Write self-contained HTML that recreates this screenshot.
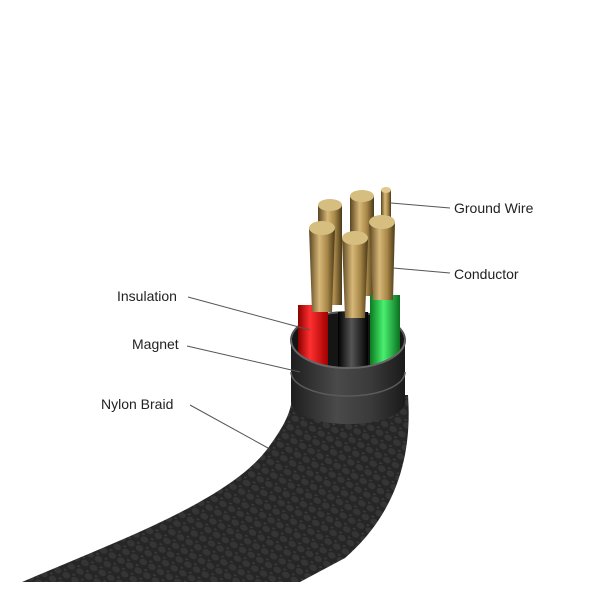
<!DOCTYPE html>
<html><head><style>
html,body{margin:0;padding:0;background:#fff;}
svg{display:block}
text{font-family:"Liberation Sans",sans-serif;font-size:14px;fill:#222}
</style></head><body>
<svg width="600" height="600" viewBox="0 0 600 600">
<defs>
<pattern id="braid" width="10" height="10" patternUnits="userSpaceOnUse" patternTransform="rotate(30)">
<rect width="10" height="10" fill="#262626"/>
<ellipse cx="5" cy="5" rx="4" ry="3" fill="#353535"/>
<ellipse cx="0" cy="0" rx="3" ry="2" fill="#3a3a3a"/>
</pattern>
<linearGradient id="sleeve" x1="0" x2="1">
<stop offset="0" stop-color="#1e1e1e"/><stop offset="0.4" stop-color="#4a4a4a"/><stop offset="0.7" stop-color="#3a3a3a"/><stop offset="1" stop-color="#1a1a1a"/>
</linearGradient>
<linearGradient id="gold" x1="0" x2="1">
<stop offset="0" stop-color="#5a4520"/><stop offset="0.4" stop-color="#d8b878"/><stop offset="0.7" stop-color="#a88848"/><stop offset="1" stop-color="#4a3818"/>
</linearGradient>
<linearGradient id="red" x1="0" x2="1"><stop offset="0" stop-color="#8a0000"/><stop offset="0.4" stop-color="#ff3030"/><stop offset="1" stop-color="#a00000"/></linearGradient>
<linearGradient id="blk" x1="0" x2="1"><stop offset="0" stop-color="#000"/><stop offset="0.45" stop-color="#555"/><stop offset="1" stop-color="#000"/></linearGradient>
<linearGradient id="grn" x1="0" x2="1"><stop offset="0" stop-color="#0a7a20"/><stop offset="0.45" stop-color="#4af070"/><stop offset="1" stop-color="#0a7020"/></linearGradient>
</defs>
<!-- braid -->
<path d="M22,582 C120,540 230,500 268,448 C285,425 292,410 292,395 L408,395 C412,450 400,510 345,558 L300,582 Z" fill="url(#braid)"/>
<!-- sleeve back / inside -->
<ellipse cx="348" cy="340" rx="57" ry="28" fill="#151515" stroke="#555" stroke-width="2"/>
<!-- back conductors -->
<rect x="318" y="205" width="24" height="100" fill="url(#gold)"/>
<ellipse cx="330" cy="205" rx="12" ry="6" fill="#d6bd80"/>
<rect x="350" y="196" width="24" height="100" fill="url(#gold)"/>
<ellipse cx="362" cy="196" rx="12" ry="6" fill="#d6bd80"/>
<rect x="381" y="190" width="10" height="40" fill="url(#gold)"/>
<ellipse cx="386" cy="190" rx="5" ry="3" fill="#e0c890"/>
<!-- insulation -->
<rect x="298" y="305" width="30" height="75" fill="url(#red)"/>
<rect x="338" y="312" width="30" height="70" fill="url(#blk)"/>
<rect x="370" y="295" width="30" height="80" fill="url(#grn)"/>
<!-- front conductors -->
<path d="M309,228 L335,228 L332,312 L312,312 Z" fill="url(#gold)"/>
<ellipse cx="322" cy="228" rx="13" ry="7" fill="#d6bd80"/>
<path d="M342,238 L368,238 L365,318 L345,318 Z" fill="url(#gold)"/>
<ellipse cx="355" cy="238" rx="13" ry="7" fill="#d6bd80"/>
<path d="M369,222 L395,222 L393,300 L373,300 Z" fill="url(#gold)"/>
<ellipse cx="382" cy="222" rx="13" ry="7" fill="#d6bd80"/>
<!-- sleeve front -->
<path d="M291,340 A57,28 0 0 0 405,340 L405,402 A57,22 0 0 1 291,402 Z" fill="url(#sleeve)"/>
<path d="M291,340 A57,28 0 0 0 405,340" fill="none" stroke="#666" stroke-width="2"/>
<path d="M291,372 A57,24 0 0 0 405,372" fill="none" stroke="#5a5a5a" stroke-width="1.5"/>
<!-- leaders -->
<g stroke="#555" stroke-width="1" fill="none">
<line x1="391" y1="203" x2="450" y2="208"/>
<line x1="393" y1="268" x2="450" y2="273"/>
<line x1="188" y1="297" x2="310" y2="330"/>
<line x1="187" y1="346" x2="300" y2="372"/>
<line x1="190" y1="405" x2="268" y2="448"/>
</g>
<text x="454" y="213">Ground Wire</text>
<text x="454" y="279">Conductor</text>
<text x="117" y="301">Insulation</text>
<text x="132" y="349">Magnet</text>
<text x="101" y="409">Nylon Braid</text>
</svg>
</body></html>
